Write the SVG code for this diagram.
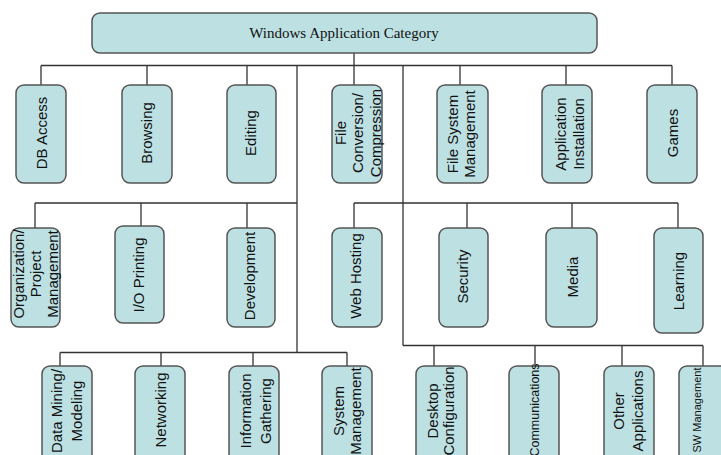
<svg xmlns="http://www.w3.org/2000/svg" width="721" height="455" viewBox="0 0 721 455">
<style>
.box{fill:#bde0e3;stroke:#555;stroke-width:1.5}
.t{font-family:"Liberation Sans",Arial,sans-serif;font-size:15px;fill:#111;text-anchor:middle}
.title{font-family:"Liberation Serif","Times New Roman",serif;font-size:15px;fill:#111;text-anchor:middle}
.c path{fill:none;stroke:#333;stroke-width:1.3}
</style>
<rect width="721" height="455" fill="#fff"/>
<g class="c" id="connectors">
<path d="M354 53V85M41 65.5H672M41 65.5V85M147 65.5V85M247 65.5V85M460 65.5V85M566 65.5V85M672 65.5V85"/>
<path d="M297 65.5V352.5M403 65.5V345.5"/>
<path d="M35 203H297M35 203V228M141 203V226M247 203V228"/>
<path d="M354 203H678M354 203V228M467 203V228M572 203V228M678 203V228"/>
<path d="M60 352.5H347M60 352.5V366M161 352.5V366M253 352.5V366M347 352.5V366"/>
<path d="M403 345.5H703M434 345.5V366M535 345.5V366M622 345.5V366M703 345.5V366"/>
</g>
<g id="root"><rect class="box" x="92" y="13" width="505" height="40" rx="8"/><text class="title" x="344" y="37.5">Windows Application Category</text></g>
<g id="db"><rect class="box" x="16" y="85" width="50" height="98" rx="8"/><text class="t" transform="translate(41,133) rotate(-90)" x="0" y="5.5">DB Access</text></g>
<g id="browsing"><rect class="box" x="122" y="85" width="50" height="98" rx="8"/><text class="t" transform="translate(147,133) rotate(-90)" x="0" y="5">Browsing</text></g>
<g id="editing"><rect class="box" x="227" y="85" width="49" height="98" rx="8"/><text class="t" transform="translate(251,133) rotate(-90)" x="0" y="5">Editing</text></g>
<g id="fileconv"><rect class="box" x="332" y="85" width="50" height="98" rx="8"/><text class="t" transform="translate(357,133) rotate(-90)"><tspan x="0" y="-11.5">File</tspan><tspan x="0" y="6">Conversion/</tspan><tspan x="0" y="23.5">Compression</tspan></text></g>
<g id="fsm"><rect class="box" x="437" y="85" width="51" height="98" rx="8"/><text class="t" transform="translate(462.5,134) rotate(-90)"><tspan x="0" y="-4.5">File System</tspan><tspan x="0" y="12">Management</tspan></text></g>
<g id="appinst"><rect class="box" x="542" y="85" width="50" height="98" rx="8"/><text class="t" transform="translate(567,134) rotate(-90)"><tspan x="0" y="-1">Application</tspan><tspan x="0" y="16.5">Installation</tspan></text></g>
<g id="games"><rect class="box" x="647" y="85" width="50" height="98" rx="8"/><text class="t" transform="translate(672,133) rotate(-90)" x="0" y="5.7">Games</text></g>
<g id="org"><rect class="box" x="11" y="228" width="49" height="99" rx="8"/><text class="t" transform="translate(35.5,274) rotate(-90)"><tspan x="0" y="-11.8">Organization/</tspan><tspan x="0" y="5.2">Project</tspan><tspan x="0" y="22.2">Management</tspan></text></g>
<g id="io"><rect class="box" x="115" y="226" width="49" height="97" rx="8"/><text class="t" transform="translate(139.5,275) rotate(-90)" x="0" y="4.2">I/O Printing</text></g>
<g id="dev"><rect class="box" x="227" y="228" width="48" height="99" rx="8"/><text class="t" transform="translate(251,276) rotate(-90)" x="0" y="3.5">Development</text></g>
<g id="web"><rect class="box" x="332" y="228" width="50" height="99" rx="8"/><text class="t" transform="translate(357,276) rotate(-90)" x="0" y="3.7">Web Hosting</text></g>
<g id="security"><rect class="box" x="439" y="228" width="49" height="99" rx="8"/><text class="t" transform="translate(463.5,276.5) rotate(-90)" x="0" y="4.2">Security</text></g>
<g id="media"><rect class="box" x="546" y="228" width="51" height="99" rx="8"/><text class="t" transform="translate(571.5,277) rotate(-90)" x="0" y="6.2">Media</text></g>
<g id="learning"><rect class="box" x="654" y="228" width="49" height="105" rx="8"/><text class="t" transform="translate(678.5,281) rotate(-90)" x="0" y="5.2">Learning</text></g>
<g id="datamining"><rect class="box" x="42" y="366" width="50" height="100" rx="8"/><text class="t" transform="translate(67,411) rotate(-90)"><tspan x="0" y="-4.6">Data Mining/</tspan><tspan x="0" y="14.7">Modeling</tspan></text></g>
<g id="networking"><rect class="box" x="135" y="366" width="50" height="100" rx="8"/><text class="t" transform="translate(160,410) rotate(-90)" x="0" y="5.7">Networking</text></g>
<g id="info"><rect class="box" x="229" y="366" width="50" height="100" rx="8"/><text class="t" transform="translate(254,411) rotate(-90)"><tspan x="0" y="-3.3">Information</tspan><tspan x="0" y="16.7">Gathering</tspan></text></g>
<g id="sysmgmt"><rect class="box" x="322" y="366" width="50" height="100" rx="8"/><text class="t" transform="translate(347,411) rotate(-90)"><tspan x="0" y="-3.3">System</tspan><tspan x="0" y="13.7">Management</tspan></text></g>
<g id="desktop"><rect class="box" x="416" y="366" width="51" height="100" rx="8"/><text class="t" transform="translate(441.5,411) rotate(-90)"><tspan x="0" y="-3.8">Desktop</tspan><tspan x="0" y="12.2">Configuration</tspan></text></g>
<g id="comms"><rect class="box" x="509" y="366" width="50" height="100" rx="8"/><text class="t" style="font-size:12.5px" transform="translate(534,410) rotate(-90)" x="0" y="5">Communications</text></g>
<g id="other"><rect class="box" x="604" y="366" width="50" height="100" rx="8"/><text class="t" transform="translate(629,411) rotate(-90)"><tspan x="0" y="-5.3">Other</tspan><tspan x="0" y="13.7">Applications</tspan></text></g>
<g id="swmgmt"><rect class="box" x="679" y="366" width="50" height="100" rx="8"/><text class="t" style="font-size:11px" transform="translate(704,410) rotate(-90)" x="0" y="-3">SW Management</text></g>
</svg>
